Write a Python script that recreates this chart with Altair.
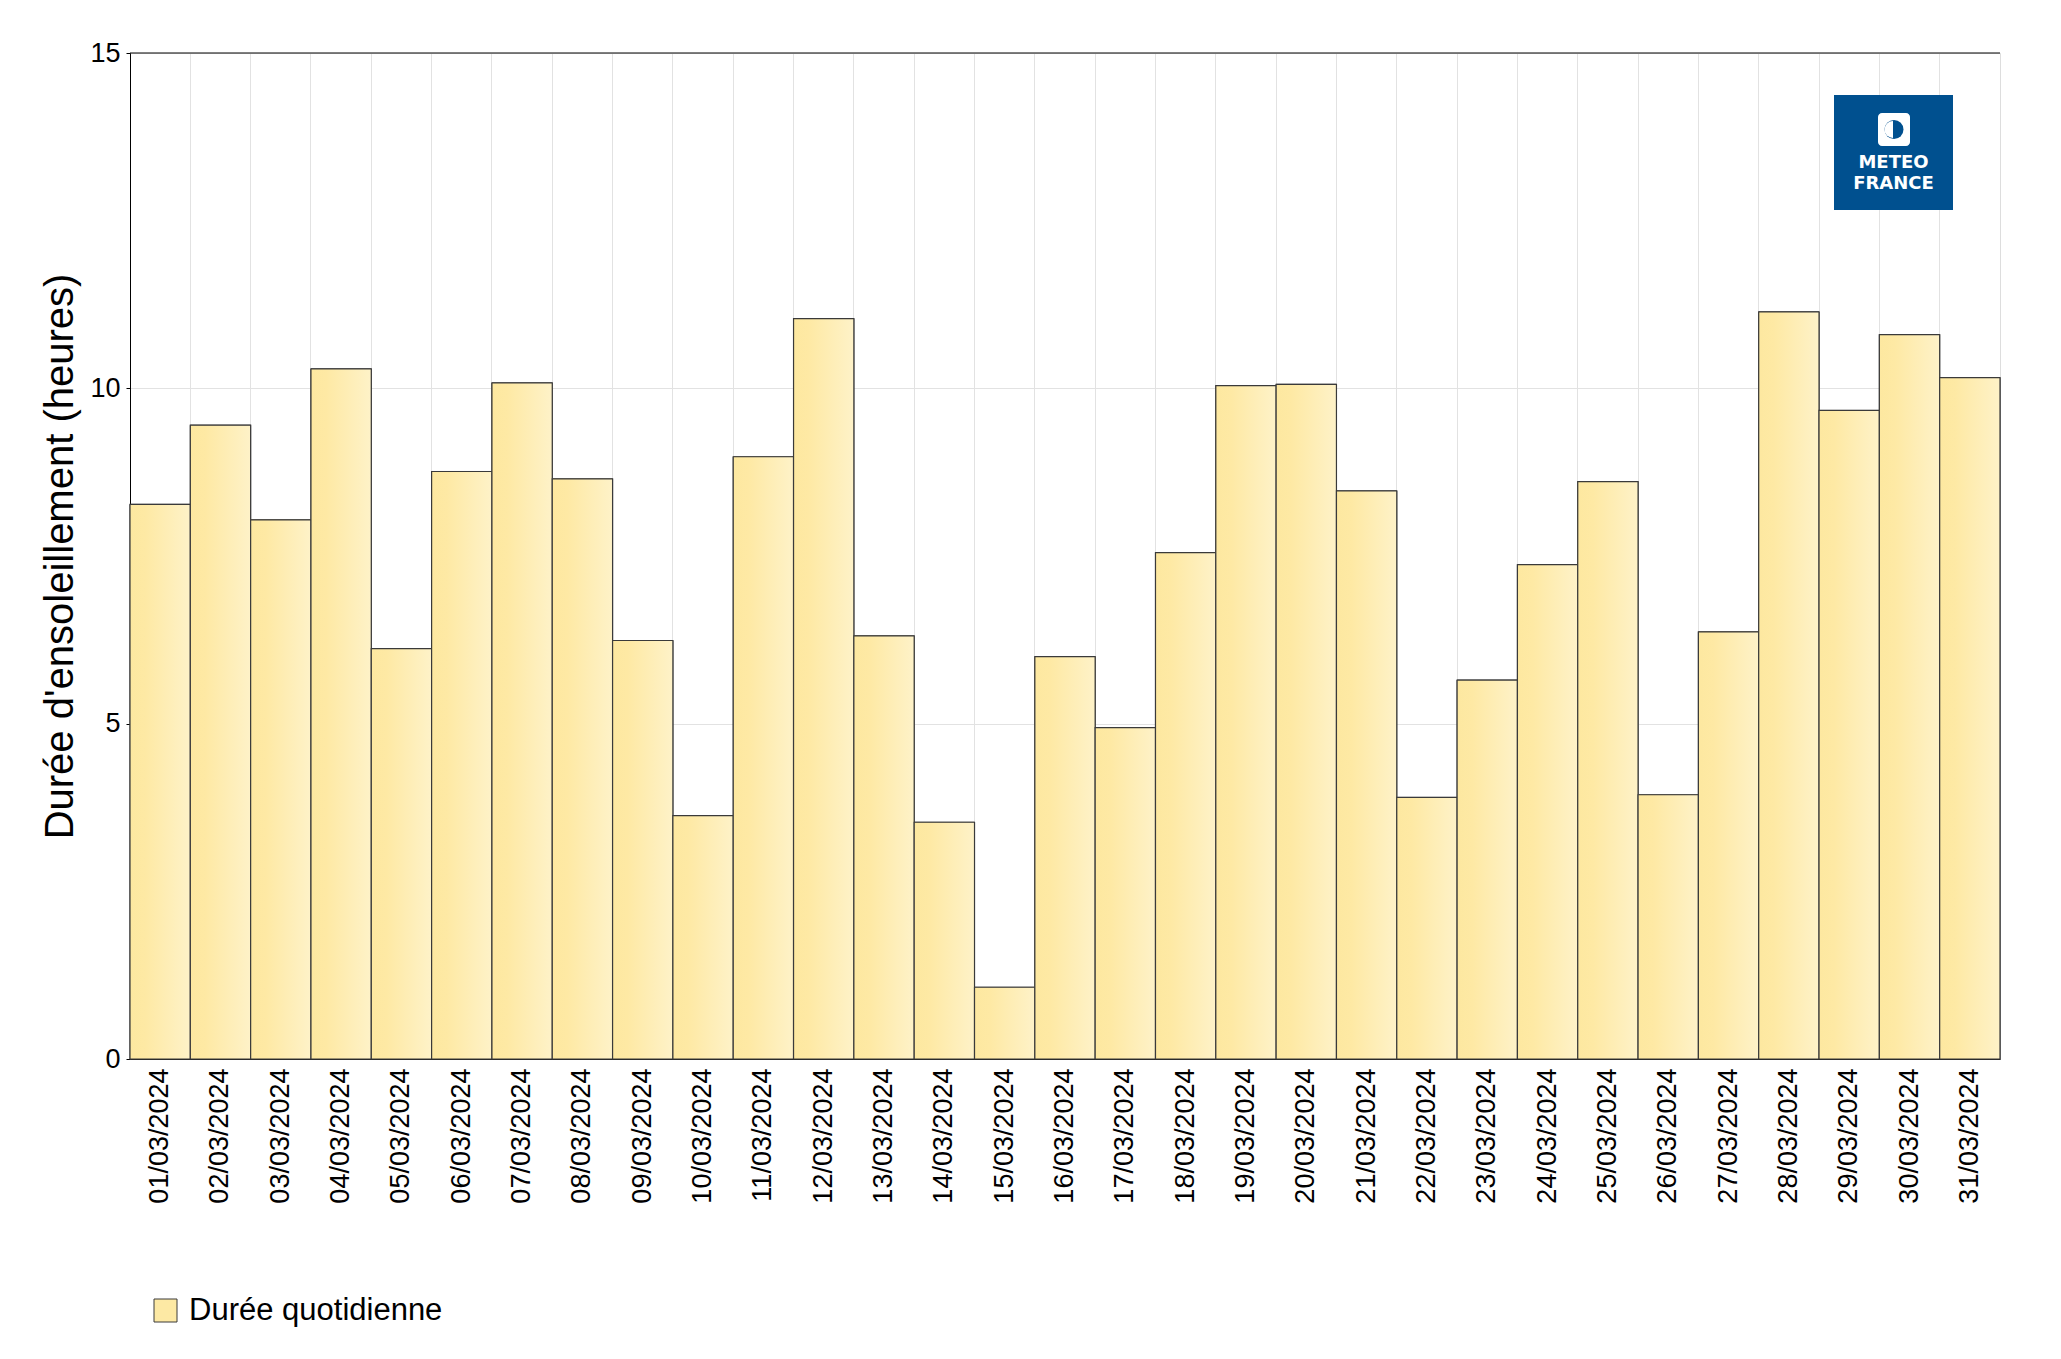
import altair as alt
import pandas as pd

dates = [f"{d:02d}/03/2024" for d in range(1, 32)]
hours = [8.27, 9.45, 8.04, 10.29, 6.12, 8.76, 10.08, 8.65, 6.24, 3.63,
         8.98, 11.04, 6.31, 3.53, 1.07, 6.00, 4.94, 7.55, 10.04, 10.06,
         8.47, 3.90, 5.65, 7.37, 8.61, 3.94, 6.37, 11.14, 9.67, 10.80, 10.16]
series_name = "Durée quotidienne"
y_ticks = [0, 5, 10, 15]

df = pd.DataFrame({"date": dates, "hours": hours, "serie": [series_name] * len(dates)})

FONT = "Liberation Sans"
BLUE = "#00508F"

x_enc = alt.X(
    "date:N", sort=None,
    scale=alt.Scale(paddingInner=0, paddingOuter=0),
    axis=alt.Axis(
        title=None, labelAngle=-90, labelFontSize=27, labelFont=FONT, labelColor="black",
        labelPadding=9, ticks=False, tickSize=0, grid=True, bandPosition=0,
        gridColor="#e2e2e2", gridWidth=1, domainColor="black", domainWidth=1,
    ),
)
y_enc = alt.Y(
    "hours:Q",
    scale=alt.Scale(domain=[0, 15], nice=False, zero=True),
    axis=alt.Axis(
        title="Durée d'ensoleillement (heures)", values=y_ticks, format="d",
        labelFontSize=27, labelFont=FONT, labelColor="black", labelPadding=6,
        tickSize=4, tickColor="black", domainColor="black", grid=True,
        gridColor="#e2e2e2", gridWidth=1,
        titleFontSize=40, titleFont=FONT, titleFontWeight="normal", titleColor="black",
        titleAngle=-90, titleAlign="center", titleBaseline="middle",
        titleX=-70, titleY=503,
    ),
)

base_bars = alt.Chart(df).mark_bar(stroke="#3a3a3a", strokeWidth=1).encode(
    x=x_enc, y=y_enc,
    color=alt.Color(
        "serie:N",
        scale=alt.Scale(domain=[series_name], range=["#FDE9A4"]),
        legend=alt.Legend(
            orient="none", legendX=20, legendY=1242, title=None,
            symbolType="square", symbolSize=529, symbolStrokeColor="#3a3a3a",
            symbolStrokeWidth=1, symbolOpacity=1, labelLimit=0,
            labelFontSize=31, labelFont=FONT, labelColor="black", labelOffset=8,
        ),
    ),
)

grad = alt.Gradient(
    gradient="linear",
    stops=[
        alt.GradientStop(color="#FDE8A0", offset=0),
        alt.GradientStop(color="#FEE9A4", offset=0.25),
        alt.GradientStop(color="#FEF2C8", offset=1),
    ],
    x1=0, x2=1, y1=0, y2=0,
)
grad_bars = alt.Chart(df).mark_bar(fill=grad, stroke="#3a3a3a", strokeWidth=1.2, opacity=1).encode(
    x=alt.X("date:N", sort=None), y="hours:Q",
)

one = pd.DataFrame({"k": [0]})
top_border = alt.Chart(one).mark_rule(color="black", strokeWidth=1).encode(
    x=alt.value(0), x2=alt.value(1870), y=alt.value(0))
logo_bg = alt.Chart(one).mark_rect(color=BLUE).encode(
    x=alt.value(1704), x2=alt.value(1823), y=alt.value(42), y2=alt.value(157))
logo_icon = alt.Chart(one).mark_rect(color="white", cornerRadius=4).encode(
    x=alt.value(1748), x2=alt.value(1780), y=alt.value(60), y2=alt.value(93))
logo_circle = alt.Chart(one).mark_point(filled=True, color=BLUE, size=360, opacity=1, shape="circle").encode(
    x=alt.value(1764), y=alt.value(76.5))
logo_half = alt.Chart(one).mark_arc(color="white", theta=3.1416, theta2=6.2832, radius=8.5).encode(
    x=alt.value(1763), y=alt.value(76.5))
logo_t1 = alt.Chart(one).mark_text(text="METEO", font="DejaVu Sans", fontWeight="bold", fontSize=18,
                                   color="white", align="center", baseline="middle").encode(
    x=alt.value(1763.5), y=alt.value(110))
logo_t2 = alt.Chart(one).mark_text(text="FRANCE", font="DejaVu Sans", fontWeight="bold", fontSize=18,
                                   color="white", align="center", baseline="middle").encode(
    x=alt.value(1763.5), y=alt.value(131))

chart = alt.layer(
    base_bars, grad_bars, top_border, logo_bg, logo_icon, logo_circle, logo_half, logo_t1, logo_t2
).properties(
    width=1870, height=1006,
    autosize=alt.AutoSizeParams(type="none"),
    padding={"left": 122, "top": 45, "right": 53, "bottom": 290},
).configure_view(
    stroke="black", strokeWidth=1,
).configure(background="white")

chart.save("out.html", embed_options={"renderer": "svg", "actions": False})
